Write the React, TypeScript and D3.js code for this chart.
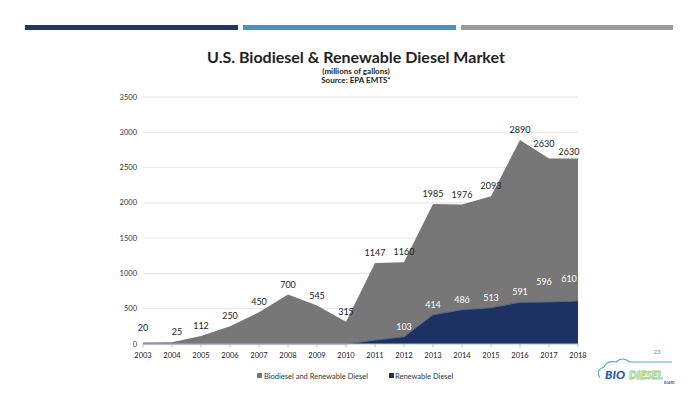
import React from "react";
import * as d3 from "d3";

// values (millions of gallons)
const years = [2003, 2004, 2005, 2006, 2007, 2008, 2009, 2010, 2011, 2012, 2013, 2014, 2015, 2016, 2017, 2018];
const totalDiesel = [20, 25, 112, 250, 450, 700, 545, 315, 1147, 1160, 1985, 1976, 2093, 2890, 2630, 2630];
const renewableDiesel = [0, 0, 0, 0, 0, 0, 0, 0, 55, 103, 414, 486, 513, 591, 596, 610];
const renewableLabelYears = [2012, 2013, 2014, 2015, 2016, 2017, 2018];
const yTicks = [0, 500, 1000, 1500, 2000, 2500, 3000, 3500];
const legendItems = ["Biodiesel and Renewable Diesel", "Renewable Diesel"];

const W = 700;
const H = 394;
const FONT = "Lato, 'Open Sans', sans-serif";
const GRAY = "#777777";
const NAVY = "#1c3262";

// small nudges so the crowded labels at the right end don't collide
const totalNudge = (i: number): [number, number] => {
  if (i === 1) return [5, -7];
  if (i === 0) return [0, -12];
  if (i === 14) return [-5, -11];
  if (i === 15) return [-9, -3];
  return [0, -7];
};
const renewNudge = (i: number): [number, number] => {
  if (i === 14) return [-5, -17];
  if (i === 15) return [-9, -19];
  return [0, -7];
};

export default function App() {
  const x = d3.scalePoint<number>().domain(years).range([143, 578]);
  const y = d3.scaleLinear().domain([0, 3500]).range([344, 97]);

  const area = d3
    .area<number>()
    .x((_, i) => x(years[i])!)
    .y0(y(0))
    .y1((d) => y(d));

  const line = d3
    .line<number>()
    .x((_, i) => x(years[i])!)
    .y((d) => y(d));

  return (
    <svg
      width={W}
      height={H}
      style={{ position: "absolute", left: 0, top: 0, background: "#fff" }}
      fontFamily={FONT}
    >
      {/* header bars */}
      <rect x={25} y={25} width={213} height={5} fill="#1f3564" />
      <rect x={243} y={25} width={213} height={5} fill="#4a93c0" />
      <rect x={461} y={25} width={212} height={5} fill="#9a9ca2" />

      {/* titles */}
      <text x={356} y={63} textAnchor="middle" fontSize={16} fontWeight={700} fill="#222">
        U.S. Biodiesel &amp; Renewable Diesel Market
      </text>
      <text x={356} y={74} textAnchor="middle" fontSize={8} fontWeight={700} fill="#222">
        (millions of gallons)
      </text>
      <text x={356} y={82.5} textAnchor="middle" fontSize={8} fontWeight={700} fill="#222">
        Source: EPA EMTS*
      </text>

      {/* grid + y labels */}
      {yTicks.map((t) => (
        <g key={t}>
          {t > 0 && (
            <line x1={143} x2={578} y1={y(t)} y2={y(t)} stroke="#e3e3e3" strokeWidth={1} />
          )}
          <text x={137} y={y(t) + 2.5} textAnchor="end" fontSize={7.5} fill="#333">
            {t}
          </text>
        </g>
      ))}

      {/* areas */}
      <path d={area(totalDiesel) ?? ""} fill={GRAY} />
      <path d={area(renewableDiesel) ?? ""} fill={NAVY} />
      <path d={line(renewableDiesel) ?? ""} fill="none" stroke="#5a6a8c" strokeWidth={1} />

      {/* x axis */}
      <line x1={143} x2={578} y1={y(0)} y2={y(0)} stroke="#b8b8b8" />
      {years.map((yr) => (
        <g key={yr}>
          <line x1={x(yr)} x2={x(yr)} y1={y(0)} y2={y(0) + 3} stroke="#b8b8b8" />
          <text x={x(yr)} y={358} textAnchor="middle" fontSize={7.5} fill="#222">
            {yr}
          </text>
        </g>
      ))}

      {/* total labels */}
      {totalDiesel.map((v, i) => {
        const [dx, dy] = totalNudge(i);
        return (
          <text
            key={"t" + i}
            x={x(years[i])! + dx}
            y={y(v) + dy}
            textAnchor="middle"
            fontSize={9}
            fill="#222"
          >
            {v}
          </text>
        );
      })}

      {/* renewable labels */}
      {renewableLabelYears.map((yr) => {
        const i = years.indexOf(yr);
        const [dx, dy] = renewNudge(i);
        return (
          <text
            key={"r" + yr}
            x={x(yr)! + dx}
            y={y(renewableDiesel[i]) + dy}
            textAnchor="middle"
            fontSize={9}
            fill="#fff"
          >
            {renewableDiesel[i]}
          </text>
        );
      })}

      {/* legend */}
      <rect x={257} y={373} width={5} height={5} fill={GRAY} />
      <text x={264} y={378.5} fontSize={7.5} fill="#333">
        {legendItems[0]}
      </text>
      <rect x={389} y={373} width={5} height={5} fill={NAVY} />
      <text x={395} y={378.5} fontSize={7.5} fill="#333">
        {legendItems[1]}
      </text>

      {/* page number */}
      <text x={657} y={354} textAnchor="middle" fontSize={6} fill="#4a93c0">
        23
      </text>

      {/* logo */}
      <g>
        <path
          d="M600,378 Q595,370 604,367 Q607,360 616,362 Q622,356 630,362 L672,362"
          fill="none"
          stroke="#5aa6d6"
          strokeWidth={1.2}
        />
        <text x={605} y={379} fontSize={12} fontWeight={900} fontStyle="italic" fill="#1e5aa8">
          BIO
        </text>
        <text
          x={629}
          y={379}
          fontSize={11}
          fontWeight={900}
          fontStyle="italic"
          fill="#fff"
          stroke="#9fcf8a"
          strokeWidth={0.9}
        >
          DIESEL
        </text>
        <text x={664} y={384} fontSize={3} fontWeight={700} fill="#1e5aa8">
          BOARD
        </text>
      </g>
    </svg>
  );
}
